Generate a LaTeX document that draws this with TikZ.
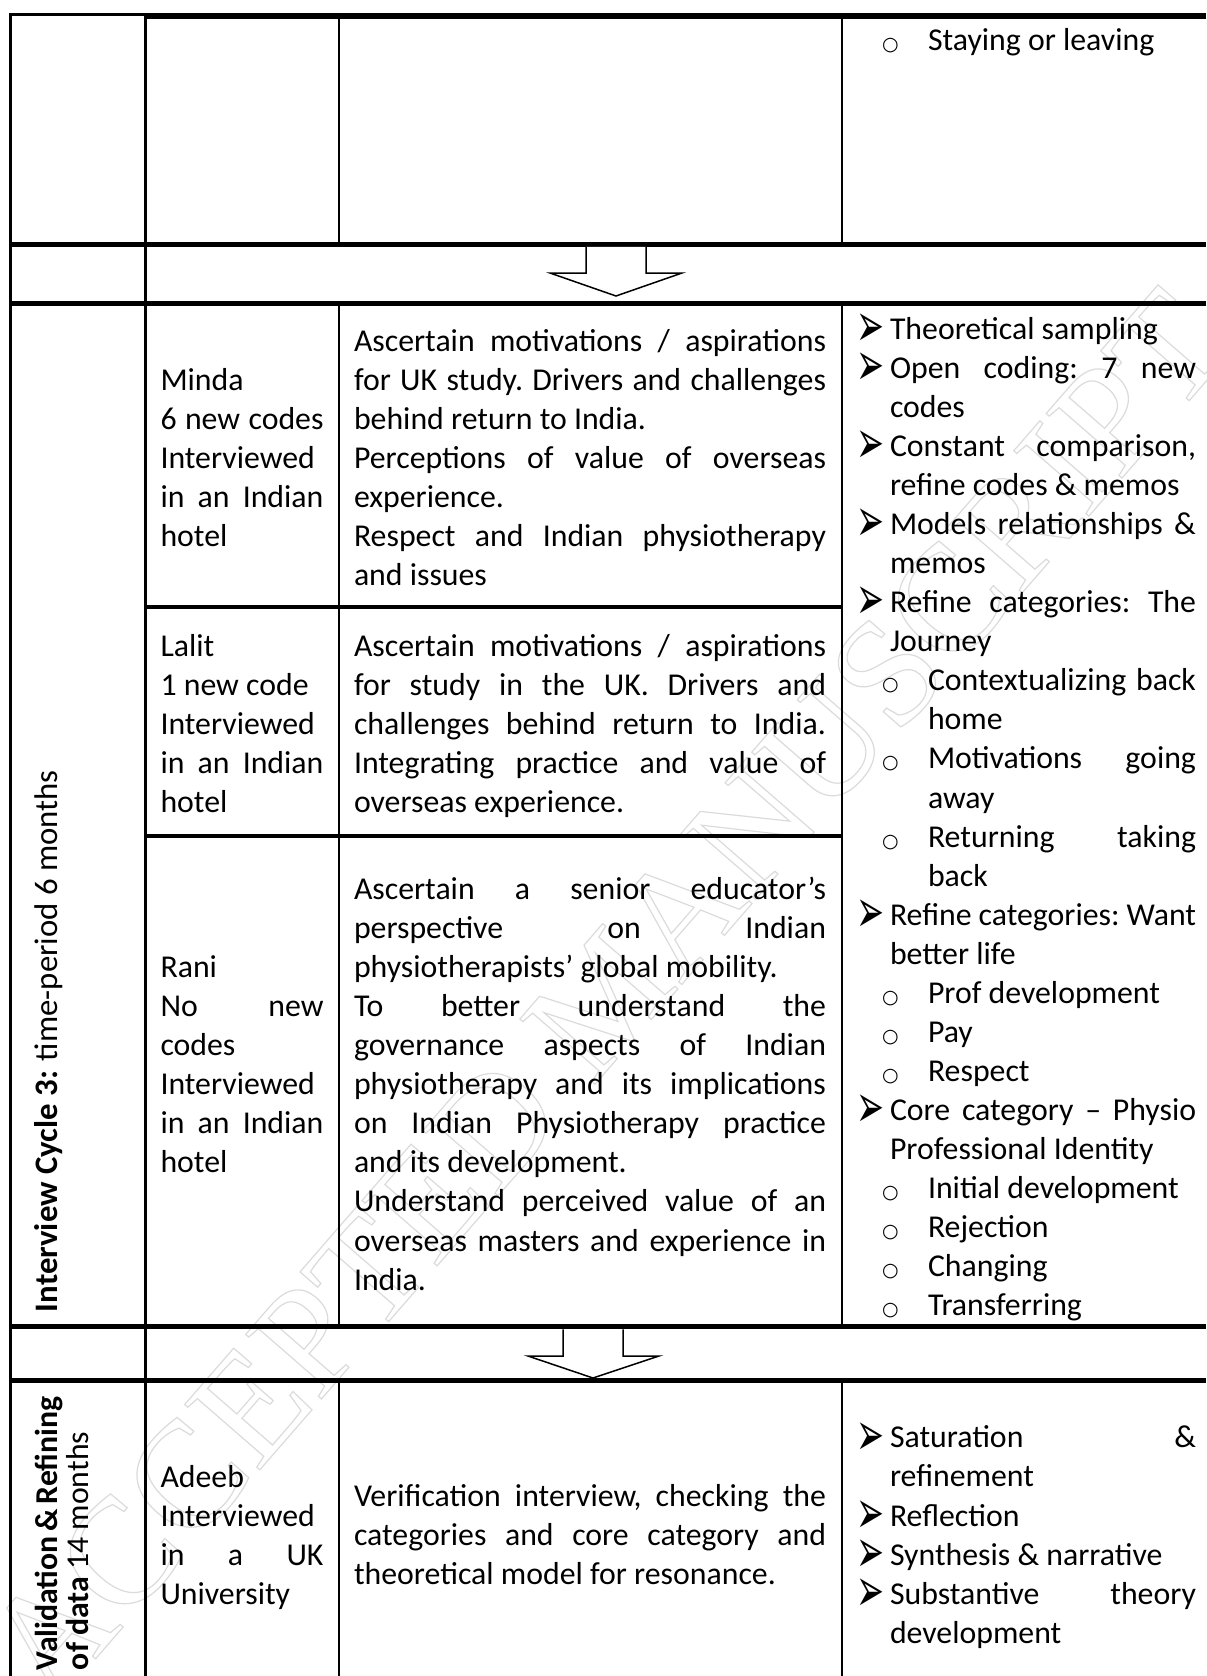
\documentclass[tikz,border=0pt]{standalone}
\usepackage{fontspec}
\usepackage{graphicx}
\setmainfont{Carlito}
\newfontfamily\symfont{DejaVu Sans}
\newfontfamily\wmfont{Liberation Serif}

\newcommand\bodyfont{\fontsize{31.8bp}{39.07bp}\selectfont\frenchspacing}
\newcommand\ja[1]{\makebox[163bp][s]{#1}}
\newcommand\jb[1]{\makebox[472bp][s]{#1}}
\newcommand\arr{\hspace*{-2.5bp}\raisebox{-7.3bp}{\scalebox{0.88}[1.615]{\symfont\fontsize{38bp}{38bp}\selectfont ➢}}}
\newcommand\circb{\raisebox{0bp}{\symfont\fontsize{19bp}{19bp}\selectfont ○}}
\newcommand\Ai[1]{\makebox[31bp][l]{\arr}#1}
\newcommand\Aj[1]{\makebox[31bp][l]{\arr}\makebox[306bp][s]{#1}}
\newcommand\Ac[1]{\hspace*{31bp}#1}
\newcommand\Bi[1]{\hspace*{23bp}\makebox[46bp][l]{\circb}#1}
\newcommand\Bj[1]{\hspace*{23bp}\makebox[46bp][l]{\circb}\makebox[268bp][s]{#1}}
\newcommand\Bc[1]{\hspace*{69bp}#1}
\newcommand\cellA[1]{\parbox[t]{163bp}{\bodyfont\parindent0pt #1}}
\newcommand\cellB[1]{\parbox[t]{472bp}{\bodyfont\parindent0pt #1}}
\newcommand\cellC[1]{\parbox[t]{337bp}{\bodyfont\parindent0pt #1}}

\begin{document}
\begin{tikzpicture}[x=1bp,y=-1bp,
  cell/.style={anchor=base west, inner sep=0pt, outer sep=0pt},
  thickrule/.style={line width=5.3bp},
  midrule/.style={line width=4.5bp},
  thinrule/.style={line width=2.3bp},
  downarrow/.style={draw=black, fill=white, line width=1.5bp, line join=miter},
  wm/.style={inner sep=0pt, text=black!14,
    font={\wmfont\fontsize{152bp}{152bp}\selectfont\special{pdf:literal direct 1 Tr 1.2 w}}}]
\useasboundingbox (0,0) rectangle (1206,1676);
\fill[white] (0,0) rectangle (1206,1676);

% watermark
\node[wm, rotate=49] (wm) at (606,996) {ACCEPTED MANUSCRIPT\special{pdf:literal direct 0 Tr}};

% grid coordinates
\coordinate (X0top) at (10.5,13.3);
\coordinate (X0bot) at (10.5,1676);
\coordinate (X1top) at (145.5,13.3);
\coordinate (X1bot) at (145.5,1676);

% vertical rules
\draw[thinrule] (X0top) -- (X0bot);
\draw[thinrule] (X1top) -- (X1bot);
\foreach \x in {339,841.7}{
  \draw[thinrule] (\x,16) -- (\x,244.2);
  \draw[thinrule] (\x,303.5) -- (\x,1326.8);
  \draw[thinrule] (\x,1380.5) -- (\x,1676);
}
% top rules
\draw[thinrule] (9.35,14.45) -- (145.5,14.45);
\draw[line width=5.7bp] (144.35,16.15) -- (1206,16.15);
% full-width thick rules
\foreach \y in {244.2,303.5,1326.8,1380.5}{
  \draw[thickrule] (9.35,\y) -- (1206,\y);
}
% inner row dividers
\foreach \y in {607,836}{
  \draw[midrule] (145.5,\y) -- (841.7,\y);
}

% down arrows
\draw[downarrow] (586,246.8) -- (586,273) -- (550,273) -- (616,296) -- (682,273) -- (646,273) -- (646,246.8);
\draw[downarrow] (563,1329.4) -- (563,1356) -- (528,1356) -- (593,1378) -- (659,1356) -- (623,1356) -- (623,1329.4);

% rotated labels
\node[cell, rotate=90] (cyc) at (57,1312) {\fontsize{32.8bp}{39bp}\selectfont\textbf{Interview Cycle 3:} time-period 6 months};
\node[cell, rotate=90] (val) at (57,1670) {\parbox[t]{270bp}{\fontsize{31.8bp}{31bp}\selectfont\parindent0pt
  \makebox[270bp][s]{\textbf{Validation \& Refining}}\\
  \textbf{of data} 14 months}};

% top row
\node[cell] (stay) at (859,51) {\cellC{\Bi{Staying or leaving}}};

% Minda
\node[cell] (mindaA) at (160.5,390.1) {\cellA{Minda\\ \ja{6 new codes}\\ Interviewed\\ \ja{in an Indian}\\ hotel}};
\node[cell] (mindaB) at (354,351) {\cellB{%
  \jb{Ascertain motivations / aspirations}\\
  \jb{for UK study. Drivers and challenges}\\
  behind return to India.\\
  \jb{Perceptions of value of overseas}\\
  experience.\\
  \jb{Respect and Indian physiotherapy}\\
  and issues}};

% Lalit
\node[cell] (lalitA) at (160.5,656.7) {\cellA{Lalit\\ 1 new code\\ Interviewed\\ \ja{in an Indian}\\ hotel}};
\node[cell] (lalitB) at (354,656.7) {\cellB{%
  \jb{Ascertain motivations / aspirations}\\
  \jb{for study in the UK. Drivers and}\\
  \jb{challenges behind return to India.}\\
  \jb{Integrating practice and value of}\\
  overseas experience.}};

% Rani
\node[cell] (raniA) at (160.5,977.5) {\cellA{Rani\\ \ja{No new}\\ codes\\ Interviewed\\ \ja{in an Indian}\\ hotel}};
\node[cell] (raniB) at (354,899.4) {\cellB{%
  \jb{Ascertain a senior educator’s}\\
  \jb{perspective on Indian}\\
  physiotherapists’ global mobility.\\
  \jb{To better understand the}\\
  \jb{governance aspects of Indian}\\
  \jb{physiotherapy and its implications}\\
  \jb{on Indian Physiotherapy practice}\\
  and its development.\\
  \jb{Understand perceived value of an}\\
  \jb{overseas masters and experience in}\\
  India.}};

% Cycle 3 analysis column
\node[cell] (cycC) at (859,339.2) {\cellC{%
  \Ai{Theoretical sampling}\\
  \Aj{Open coding: 7 new}\\
  \Ac{codes}\\
  \Aj{Constant comparison,}\\
  \Ac{refine codes \& memos}\\
  \Aj{Models relationships \&}\\
  \Ac{memos}\\
  \Aj{Refine categories: The}\\
  \Ac{Journey}\\
  \Bj{Contextualizing back}\\
  \Bc{home}\\
  \Bj{Motivations going}\\
  \Bc{away}\\
  \Bj{Returning taking}\\
  \Bc{back}\\
  \Aj{Refine categories: Want}\\
  \Ac{better life}\\
  \Bi{Prof development}\\
  \Bi{Pay}\\
  \Bi{Respect}\\
  \Aj{Core category – Physio}\\
  \Ac{Professional Identity}\\
  \Bi{Initial development}\\
  \Bi{Rejection}\\
  \Bi{Changing}\\
  \Bi{Transferring}}};

% Validation row
\node[cell] (adeebA) at (160.5,1487) {\cellA{Adeeb\\ Interviewed\\ \ja{in a UK}\\ University}};
\node[cell] (adeebB) at (354,1506.7) {\cellB{%
  \jb{Verification interview, checking the}\\
  \jb{categories and core category and}\\
  theoretical model for resonance.}};
\node[cell] (adeebC) at (859,1447.9) {\cellC{%
  \Aj{Saturation \&}\\
  \Ac{refinement}\\
  \Ai{Reflection}\\
  \Ai{Synthesis \& narrative}\\
  \Aj{Substantive theory}\\
  \Ac{development}}};
\end{tikzpicture}
\end{document}
